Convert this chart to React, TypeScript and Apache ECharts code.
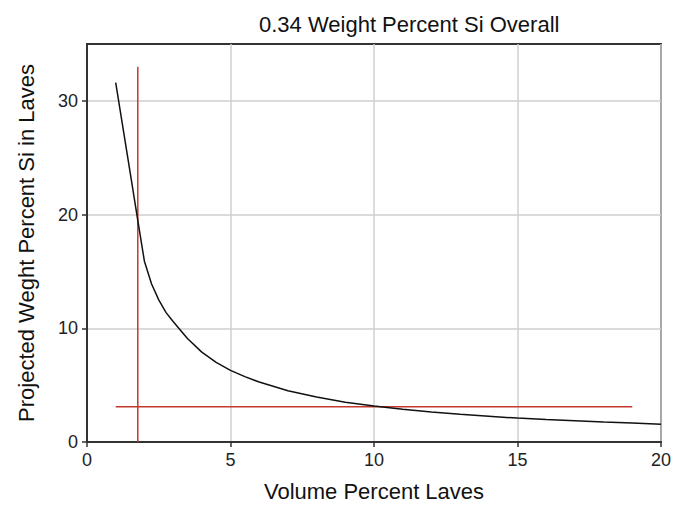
import React, { useEffect, useRef } from "react";
import * as echarts from "echarts";

const curveX = [1, 1.5, 1.75, 2, 2.25, 2.5, 2.75, 3, 3.5, 4, 4.5, 5, 5.5, 6, 7, 8, 9, 10, 11, 12, 13, 14, 15, 16, 17, 18, 19, 20];
const curveY = [31.6, 23.75, 19.8, 15.9, 13.9, 12.5, 11.4, 10.6, 9.1, 7.9, 7.0, 6.3, 5.75, 5.27, 4.5, 3.95, 3.5, 3.16, 2.87, 2.63, 2.43, 2.26, 2.1, 1.97, 1.86, 1.75, 1.66, 1.56];

const vLineX = [1.77, 1.77];
const vLineY = [0, 33];
const hLineX = [1, 19];
const hLineY = [3.1, 3.1];

const xTicks = [0, 5, 10, 15, 20];
const yTicks = [0, 10, 20, 30];

const title = "0.34 Weight Percent Si Overall";
const xName = "Volume Percent Laves";
const yName = "Projected Weght Percent Si in Laves";

const zip = (a: number[], b: number[]) => a.map((v, i) => [v, b[i]]);

export default function App() {
  const ref = useRef<HTMLDivElement>(null);
  useEffect(() => {
    if (!ref.current) return;
    const chart = echarts.init(ref.current, undefined, { renderer: "svg" });
    const font = "Liberation Sans, Arial, sans-serif";
    chart.setOption({
      animation: false,
      backgroundColor: "#ffffff",
      title: {
        text: title,
        left: 254,
        top: 8,
        textStyle: { fontFamily: font, fontSize: 22, fontWeight: "normal", color: "#111" },
      },
      grid: {
        left: 87,
        right: 8,
        top: 44,
        bottom: 60,
        show: true,
        borderColor: "#333",
        borderWidth: 2,
        containLabel: false,
      },
      xAxis: {
        type: "value",
        min: 0,
        max: 20,
        interval: 5,
        name: xName,
        nameLocation: "middle",
        nameGap: 38,
        nameTextStyle: { fontFamily: font, fontSize: 22, color: "#111" },
        axisLine: { show: true, lineStyle: { color: "#333", width: 2 } },
        axisTick: { show: true, length: 5, lineStyle: { color: "#333", width: 1.5 } },
        axisLabel: {
          fontFamily: font,
          fontSize: 18,
          color: "#222",
          margin: 9,
          customValues: xTicks,
        },
        splitLine: { show: true, lineStyle: { color: "#cfcfcf", width: 1.5 } },
      },
      yAxis: {
        type: "value",
        min: 0,
        max: 35,
        interval: 10,
        name: yName,
        nameLocation: "middle",
        nameGap: 50,
        nameTextStyle: { fontFamily: font, fontSize: 22, color: "#111" },
        axisLine: { show: true, lineStyle: { color: "#333", width: 2 } },
        axisTick: { show: true, length: 5, lineStyle: { color: "#333", width: 1.5 }, customValues: yTicks },
        axisLabel: {
          fontFamily: font,
          fontSize: 18,
          color: "#222",
          margin: 9,
          customValues: yTicks,
        },
        splitLine: { show: true, lineStyle: { color: "#cfcfcf", width: 1.5 } },
      },
      series: [
        {
          type: "line",
          data: zip(curveX, curveY),
          showSymbol: false,
          smooth: false,
          lineStyle: { color: "#111", width: 1.5 },
          z: 3,
        },
        {
          type: "line",
          data: zip(vLineX, vLineY),
          showSymbol: false,
          lineStyle: { color: "#c33a2c", width: 1.5 },
          z: 2,
        },
        {
          type: "line",
          data: zip(hLineX, hLineY),
          showSymbol: false,
          lineStyle: { color: "#c33a2c", width: 1.5 },
          z: 2,
        },
      ],
    });
    return () => chart.dispose();
  }, []);
  return <div ref={ref} style={{ width: 674, height: 507, position: "absolute", left: 0, top: 0 }} />;
}
